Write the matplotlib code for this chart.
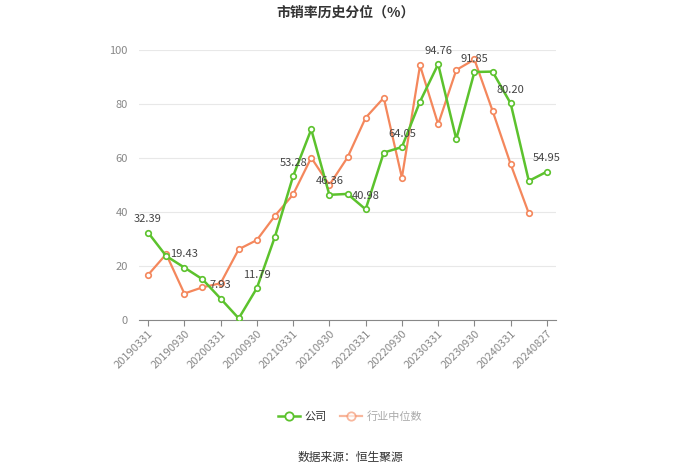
import matplotlib
matplotlib.use("Agg")
import matplotlib.pyplot as plt
from matplotlib.lines import Line2D

plt.rcParams['font.family'] = ['Noto Sans CJK SC', 'DejaVu Sans']

dates = ["20190331", "20190630", "20190930", "20191231", "20200331", "20200630",
         "20200930", "20201231", "20210331", "20210630", "20210930", "20211231",
         "20220331", "20220630", "20220930", "20221231", "20230331", "20230630",
         "20230930", "20231231", "20240331", "20240630", "20240827"]
company = [32.39, 23.7, 19.43, 15.1, 7.93, 0.6, 11.79, 30.9, 53.28, 70.6, 46.36, 46.7,
           40.98, 62.0, 64.05, 80.9, 94.76, 67.0, 91.85, 92.0, 80.20, 51.5, 54.95]
industry = [16.7, 24.4, 9.8, 12.1, 13.6, 26.2, 29.6, 38.6, 46.5, 60.1, 50.0, 60.2,
            74.9, 82.3, 52.7, 94.3, 72.5, 92.6, 96.5, 77.5, 57.7, 39.5]
yticks = [0, 20, 40, 60, 80, 100]

green = "#5cc22d"
orange = "#f4875c"

fig = plt.figure(figsize=(7.0, 4.74), dpi=100)
ax = fig.add_axes([139/700, 1-320/474, (556-139)/700, 270/474])

x = list(range(len(dates)))
ax.plot(x[:len(industry)], industry, color=orange, lw=1.6, marker='o', ms=4,
        mfc='white', mec=orange, mew=1.2, zorder=3)
ax.plot(x, company, color=green, lw=1.8, marker='o', ms=4,
        mfc='white', mec=green, mew=1.2, zorder=4)

for i in range(0, len(company), 2):
    ax.annotate(f"{company[i]:.2f}", (i, company[i]), xytext=(0, 6),
                textcoords='offset points', ha='center', va='bottom',
                fontsize=8, color='#444444', zorder=5)

ax.set_xlim(-0.5, len(dates) - 0.5)
ax.set_ylim(0, 100)
ax.set_yticks(yticks)
ax.set_yticklabels([str(t) for t in yticks], fontsize=8, color='#888888')
ax.set_xticks(x[::2])
ax.set_xticklabels(dates[::2], rotation=45, ha='right', rotation_mode='anchor',
                   fontsize=8, color='#888888')
ax.tick_params(axis='y', length=0, pad=8)
ax.tick_params(axis='x', length=4, color='#888888', pad=2)
ax.grid(axis='y', color='#e8e8e8', lw=0.8)
ax.set_axisbelow(True)
for s in ['top', 'right', 'left']:
    ax.spines[s].set_visible(False)
ax.spines['bottom'].set_color('#888888')

fig.text(0.493, 1-13/474, "市销率历史分位（%）", ha='center', va='center',
         fontsize=10, fontweight='bold', color='#333333')

handles = [Line2D([0], [0], color=green, lw=1.8, marker='o', ms=6, mfc='white', mec=green, mew=1.3),
           Line2D([0], [0], color=orange, lw=1.6, marker='o', ms=6, mfc='white', mec=orange, mew=1.3, alpha=0.6)]
leg = fig.legend(handles, ["公司", "行业中位数"], loc='center', bbox_to_anchor=(0.5, 1-417/474),
                 ncol=2, frameon=False, fontsize=8, handlelength=2.0, columnspacing=1.2,
                 handletextpad=0.4)
leg.get_texts()[0].set_color('#333333')
leg.get_texts()[1].set_color('#aaaaaa')

fig.text(0.5, 1-457/474, "数据来源：恒生聚源", ha='center', va='center',
         fontsize=8.5, color='#333333')

fig.savefig("out.png", dpi=100, facecolor='white')
